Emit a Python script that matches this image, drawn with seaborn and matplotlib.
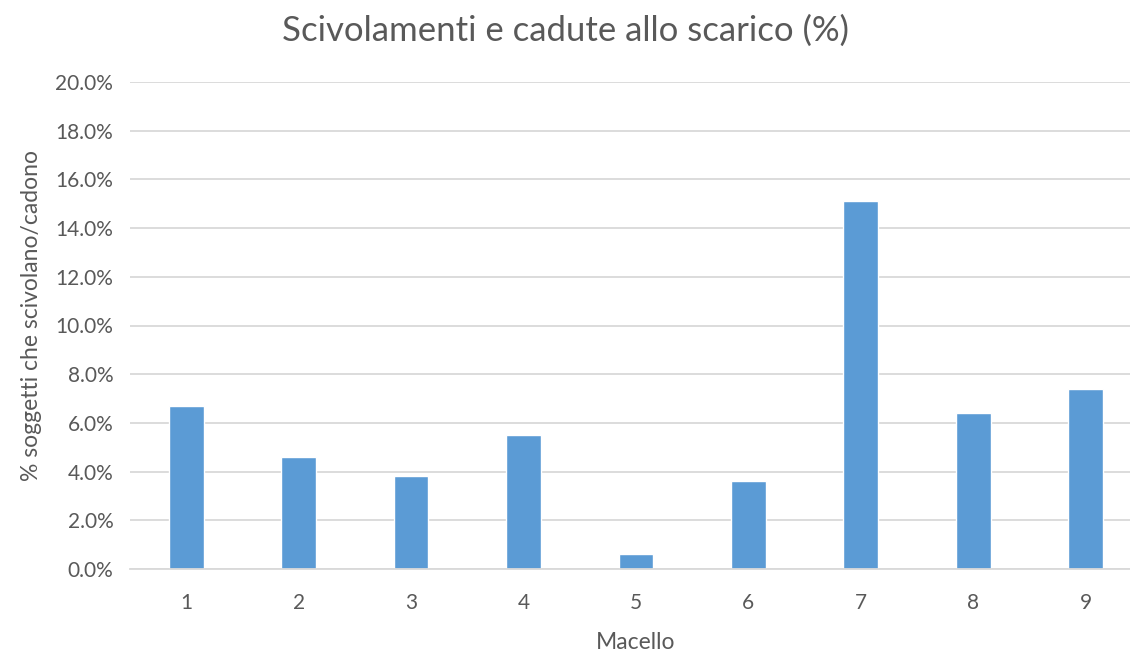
import matplotlib
matplotlib.use("Agg")
import matplotlib.pyplot as plt
import seaborn as sns
import pandas as pd
from matplotlib.ticker import FuncFormatter, MultipleLocator

# values
macello = ["1", "2", "3", "4", "5", "6", "7", "8", "9"]
percent = [6.7, 4.6, 3.8, 5.5, 0.6, 3.6, 15.1, 6.4, 7.4]

sns.set_theme(style="white")
plt.rcParams['font.family'] = ['Lato', 'DejaVu Sans']

df = pd.DataFrame({"Macello": macello, "Percent": percent})

fig = plt.figure(figsize=(11.3, 6.51), dpi=100)
# plot area runs a little past the right edge, as in the original
ax = fig.add_axes([0.115, 0.126, 0.8956, 0.748])

sns.barplot(data=df, x="Macello", y="Percent", color="#5B9BD5",
            width=0.31, saturation=1, ax=ax)

text_col = "#595959"
ax.set_ylim(0, 20)
ax.yaxis.set_major_locator(MultipleLocator(2))
ax.yaxis.set_major_formatter(FuncFormatter(lambda v, p: f"{v:.1f}%"))
ax.grid(axis="y", color="#D9D9D9", linewidth=1.3)
ax.set_axisbelow(True)
for s in ["top", "right", "left"]:
    ax.spines[s].set_visible(False)
ax.spines["bottom"].set_color("#D9D9D9")
ax.spines["bottom"].set_linewidth(1.3)
ax.tick_params(axis="both", length=0, labelsize=15, labelcolor=text_col)
ax.tick_params(axis="x", pad=17)
ax.tick_params(axis="y", pad=12)

ax.set_xlabel("Macello", fontsize=16.5, color=text_col, labelpad=14)
ax.set_ylabel("% soggetti che scivolano/cadono", fontsize=16.5,
              color=text_col)
ax.yaxis.set_label_coords(-0.087, 0.52)
fig.suptitle("Scivolamenti e cadute allo scarico (%)", fontsize=25,
             color=text_col, y=0.978)

fig.savefig("out.png", dpi=100)
